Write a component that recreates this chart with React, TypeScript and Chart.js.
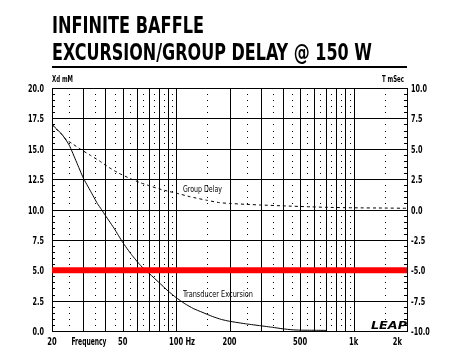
import React, { useEffect, useRef } from 'react';
import { Chart, registerables } from 'chart.js';

Chart.register(...registerables);

const FONT = "'Liberation Sans Narrow', 'DejaVu Sans Condensed', 'Liberation Sans', sans-serif";

const TITLE_LINES = ['INFINITE BAFFLE', 'EXCURSION/GROUP DELAY @ 150 W'];
const LEFT_AXIS_TITLE = 'Xd mM';
const RIGHT_AXIS_TITLE = 'T mSec';
const X_AXIS_NAME = 'Frequency';
const X_LABEL_VALUES = [20, 50, 100, 200, 500, 1000, 2000];
const X_LABEL_TEXTS = ['20', '50', '100', '200', '500', '1k', '2k'];
const X_UNIT = ' Hz';
const SOLID_GRID_FREQS = [30, 40, 50, 60, 70, 80, 90, 100, 200, 300, 400, 500, 600, 700, 800, 900, 1000];
const DOTTED_GRID_FREQS = [25, 35, 45, 55, 65, 75, 85, 95, 150, 250, 350, 450, 550, 650, 750, 850, 950, 1500];
const LEFT_TICKS = [0, 2.5, 5, 7.5, 10, 12.5, 15, 17.5, 20];
const RIGHT_TICKS = [-10, -7.5, -5, -2.5, 0, 2.5, 5, 7.5, 10];
const MINOR_STEP = 0.5;

const EXC_LABEL = 'Transducer Excursion';
const GD_LABEL = 'Group Delay';
const LOGO_TEXT = 'LEAP';

const EXC_FREQS = [20, 21.5, 23, 25, 27.5, 30, 33, 36, 38, 40, 45, 50, 56, 63, 71, 80, 90, 100, 112, 125, 140, 160, 180, 200, 250, 300, 350, 400, 450, 500, 600, 700];
const EXC_MM = [17.0, 16.55, 16.1, 15.3, 13.9, 12.6, 11.5, 10.5, 10.0, 9.5, 8.4, 7.3, 6.3, 5.4, 4.7, 4.0, 3.3, 2.75, 2.25, 1.85, 1.55, 1.2, 0.95, 0.8, 0.58, 0.43, 0.3, 0.18, 0.1, 0.07, 0.06, 0.05];

const GD_FREQS = [20, 21.5, 23, 24, 26, 29, 33, 37, 42, 47, 55, 63, 71, 80, 92, 100, 120, 150, 176, 200, 250, 300, 400, 570, 700, 1000, 1500, 2000];
const GD_MS = [7.0, 6.5, 6.1, 5.75, 5.42, 4.95, 4.45, 4.0, 3.45, 3.03, 2.55, 2.2, 1.95, 1.7, 1.47, 1.35, 1.05, 0.75, 0.56, 0.5, 0.42, 0.37, 0.3, 0.22, 0.18, 0.14, 0.12, 0.1];

const LIMIT_FREQS = [20, 2000];
const LIMIT_MM = [5.0, 5.0];

function drawText(ctx: CanvasRenderingContext2D, text: string, x: number, y: number, font: string, align: string, width?: number, sx?: number) {
  ctx.save();
  ctx.font = font;
  const w = ctx.measureText(text).width;
  const s = width ? width / w : (sx || 1);
  const tw = w * s;
  let x0 = x;
  if (align === 'center') x0 = x - tw / 2;
  else if (align === 'right') x0 = x - tw;
  ctx.translate(x0, y);
  ctx.scale(s, 1);
  ctx.textAlign = 'left';
  ctx.textBaseline = 'alphabetic';
  ctx.fillStyle = '#000';
  ctx.fillText(text, 0, 0);
  ctx.restore();
  return tw;
}

const gridPlugin = {
  id: 'leapGrid',
  beforeDatasetsDraw(chart: any) {
    const ctx: CanvasRenderingContext2D = chart.ctx;
    const xs = chart.scales.x;
    const ys = chart.scales.y;
    const { left, right, top, bottom } = chart.chartArea;
    ctx.save();
    ctx.strokeStyle = '#000';
    ctx.fillStyle = '#000';
    ctx.lineWidth = 1;
    ctx.beginPath();
    for (const f of SOLID_GRID_FREQS) {
      const px = Math.round(xs.getPixelForValue(f)) + 0.5;
      ctx.moveTo(px, top);
      ctx.lineTo(px, bottom);
    }
    for (const v of LEFT_TICKS) {
      const py = Math.round(ys.getPixelForValue(v)) + 0.5;
      ctx.moveTo(left, py);
      ctx.lineTo(right, py);
    }
    ctx.stroke();
    const ymin = LEFT_TICKS[0];
    const ymax = LEFT_TICKS[LEFT_TICKS.length - 1];
    const n = Math.round((ymax - ymin) / MINOR_STEP);
    for (let i = 0; i <= n; i++) {
      const v = ymin + i * MINOR_STEP;
      const py = Math.round(ys.getPixelForValue(v));
      const isMajor = Math.abs(v / 2.5 - Math.round(v / 2.5)) < 1e-6;
      if (!isMajor) {
        for (const f of DOTTED_GRID_FREQS) {
          const px = Math.round(xs.getPixelForValue(f));
          ctx.fillRect(px, py, 1, 1);
        }
        ctx.fillRect(Math.round(left), py, 3, 1);
        ctx.fillRect(Math.round(right) - 3, py, 3, 1);
      }
    }
    ctx.strokeRect(Math.round(left) + 0.5, Math.round(top) + 0.5, Math.round(right - left), Math.round(bottom - top));
    ctx.restore();
  },
  afterDraw(chart: any) {
    const ctx: CanvasRenderingContext2D = chart.ctx;
    const xs = chart.scales.x;
    const ys = chart.scales.y;
    const ys1 = chart.scales.y1;
    const { left, right, bottom } = chart.chartArea;
    // Title
    drawText(ctx, TITLE_LINES[0], left, 33, `bold 23px ${FONT}`, 'left', 152);
    drawText(ctx, TITLE_LINES[1], left, 60, `bold 23px ${FONT}`, 'left', 320);
    ctx.fillStyle = '#000';
    ctx.fillRect(Math.round(left), 66, Math.round(right - left), 2);
    // axis titles
    drawText(ctx, LEFT_AXIS_TITLE, left, 82, `bold 8px ${FONT}`, 'left', 21);
    drawText(ctx, RIGHT_AXIS_TITLE, right - 3, 82, `bold 8px ${FONT}`, 'right', 22);
    // y tick labels
    const tf = `bold 10px ${FONT}`;
    for (const v of LEFT_TICKS) {
      drawText(ctx, v.toFixed(1), left - 8, Math.round(ys.getPixelForValue(v)) + 4, tf, 'right', undefined, 0.72);
    }
    for (const v of RIGHT_TICKS) {
      drawText(ctx, v.toFixed(1), right + 4, Math.round(ys1.getPixelForValue(v)) + 4, tf, 'left', undefined, 0.72);
    }
    // x labels
    const lf = `bold 10px ${FONT}`;
    const by = bottom + 14;
    X_LABEL_VALUES.forEach((v, i) => {
      const px = xs.getPixelForValue(v);
      const t = X_LABEL_TEXTS[i];
      if (i === X_LABEL_VALUES.length - 1) {
        drawText(ctx, t, px - 5, by, lf, 'right', undefined, 0.75);
      } else if (v === 100) {
        const w = drawText(ctx, t, px, by, lf, 'center', undefined, 0.75);
        drawText(ctx, X_UNIT, px + w / 2, by, lf, 'left', undefined, 0.75);
      } else {
        drawText(ctx, t, px, by, lf, 'center', undefined, 0.75);
      }
    });
    drawText(ctx, X_AXIS_NAME, xs.getPixelForValue(32.3), by, lf, 'center', 35);
    // curve labels
    const cf = `9px ${FONT}`;
    drawText(ctx, GD_LABEL, 183, 192, cf, 'left', 39);
    drawText(ctx, EXC_LABEL, 183, 297, cf, 'left', 70);
    // logo
    drawText(ctx, LOGO_TEXT, right, bottom - 2, `italic bold 11px ${FONT}`, 'right', 36);
  },
};

export default function App() {
  const ref = useRef<HTMLCanvasElement | null>(null);
  useEffect(() => {
    if (!ref.current) return;
    const chart = new Chart(ref.current, {
      type: 'line',
      data: {
        datasets: [
          {
            label: 'limit',
            data: LIMIT_FREQS.map((f, i) => ({ x: f, y: LIMIT_MM[i] })),
            borderColor: '#ff0000',
            borderWidth: 6,
            pointRadius: 0,
            yAxisID: 'y',
            order: 0,
          },
          {
            label: EXC_LABEL,
            data: EXC_FREQS.map((f, i) => ({ x: f, y: EXC_MM[i] })),
            borderColor: '#000',
            borderWidth: 1,
            pointRadius: 0,
            tension: 0.15,
            yAxisID: 'y',
            order: 1,
          },
          {
            label: GD_LABEL,
            data: GD_FREQS.map((f, i) => ({ x: f, y: GD_MS[i] })),
            borderColor: '#000',
            borderWidth: 1,
            borderDash: [3, 3],
            pointRadius: 0,
            tension: 0.15,
            yAxisID: 'y1',
            order: 2,
          },
        ],
      },
      options: {
        animation: false,
        responsive: false,
        devicePixelRatio: 1,
        layout: { padding: { top: 88, bottom: 24, left: 0, right: 0 } },
        plugins: { legend: { display: false }, tooltip: { enabled: false }, title: { display: false } },
        scales: {
          x: { type: 'logarithmic', min: 20, max: 2000, display: false },
          y: {
            position: 'left',
            min: 0,
            max: 20,
            grid: { display: false, drawTicks: false },
            border: { display: false },
            ticks: { display: false, stepSize: 2.5 },
            afterFit: (s: any) => { s.width = 52; },
          },
          y1: {
            position: 'right',
            min: -10,
            max: 10,
            grid: { display: false, drawTicks: false },
            border: { display: false },
            ticks: { display: false, stepSize: 2.5 },
            afterFit: (s: any) => { s.width = 48; },
          },
        },
      } as any,
      plugins: [gridPlugin],
    });
    return () => chart.destroy();
  }, []);
  return (
    <div style={{ position: 'fixed', left: 0, top: 0, width: 455, height: 355, background: '#fff' }}>
      <canvas ref={ref} width={455} height={355} />
    </div>
  );
}
